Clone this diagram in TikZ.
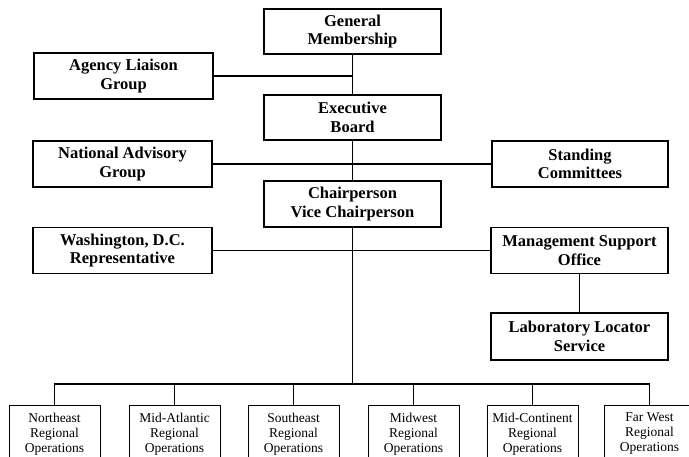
\documentclass[tikz,border=0pt]{standalone}
\usepackage{fontspec}
\setmainfont{Liberation Serif}
\begin{document}
\begin{tikzpicture}[x=1pt,y=-1pt,
  topbox/.style={draw,line width=1.5pt,rectangle,inner sep=0pt,align=center,
    minimum width=177pt,minimum height=46pt,
    font=\bfseries\fontsize{16.5}{18.5}\selectfont},
  sidebox/.style={topbox,minimum width=179pt},
  regbox/.style={draw,line width=1pt,rectangle,inner sep=0pt,align=center,
    minimum width=91pt,minimum height=56pt,
    font=\fontsize{13.5}{15}\selectfont},
  conn/.style={line width=1.7pt}]
\useasboundingbox (0,0) rectangle (689,457);
\clip (0,0) rectangle (689,457);
\fill[white] (0,0) rectangle (689,457);

% top column
\node[topbox,minimum height=45pt] (gm) at (352.5,31.5) {General\\Membership};
\node[topbox,minimum height=45pt] (eb) at (352.5,117.5) {Executive\\Board};
\node[topbox] (cp) at (352.5,204) {Chairperson\\Vice Chairperson};

% left side
\node[sidebox] (al) at (123.5,76) {Agency Liaison\\Group};
\node[sidebox] (na) at (122.5,164) {National Advisory\\Group};
\node[sidebox] (wa) at (122.5,250.5) {Washington, D.C.\\Representative};

% right side
\node[topbox,minimum width=176pt] (sc) at (580,164) {Standing\\Committees};
\node[topbox] (ms) at (579.5,250.5) {Management Support\\Office};
\node[topbox,minimum height=47pt] (ll) at (579.5,336.5) {Laboratory Locator\\Service};

% regional boxes
\node[regbox] (r1) at (54.5,434) {Northeast\\Regional\\Operations};
\node[regbox] (r2) at (174.5,434) {Mid-Atlantic\\Regional\\Operations};
\node[regbox] (r3) at (293.5,434) {Southeast\\Regional\\Operations};
\node[regbox] (r4) at (413.5,434) {Midwest\\Regional\\Operations};
\node[regbox] (r5) at (532.5,434) {Mid-Continent\\Regional\\Operations};
\node[regbox] (r6) at (649.5,434) {Far West\\Regional\\Operations};

\coordinate (bus) at (352.5,384);

% connectors
\draw[conn] (gm.south) -- (eb.north);
\draw[conn] (al.east) -- (al.east -| gm.south);
\draw[conn] (eb.south) -- (cp.north);
\draw[conn] (na.east) -- (sc.west);
\draw[conn] (cp.south) -- (bus);
\draw[conn] (wa.east) -- (ms.west);
\draw[conn] (ms.south) -- (ll.north);
\foreach \r in {r1,r2,r3,r4,r5,r6}
  \draw[conn] (\r.north) |- (bus);
\end{tikzpicture}
\end{document}
